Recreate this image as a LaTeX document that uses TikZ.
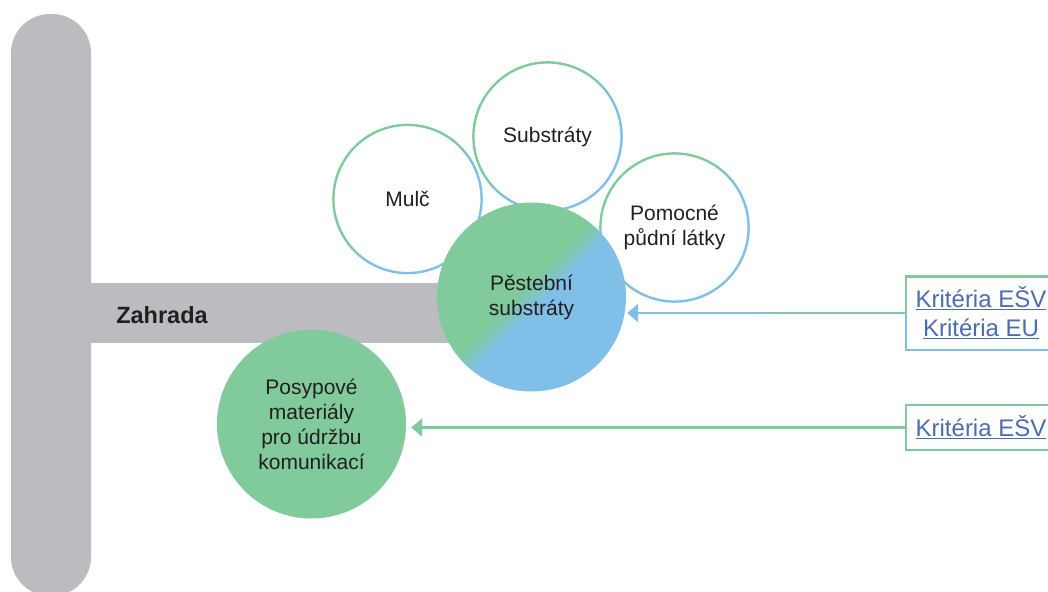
\documentclass[tikz,border=0pt]{standalone}
\usepackage{fontspec}
\setmainfont{Liberation Sans}
\usetikzlibrary{arrows.meta,calc}
\definecolor{cgreen}{HTML}{80CA9C}
\definecolor{cblue}{HTML}{80BFE8}
\definecolor{cgray}{HTML}{BBBCC0}
\definecolor{ctext}{HTML}{231F20}
\definecolor{clink}{HTML}{4A6CB0}
\pgfdeclarehorizontalshading{ringgb}{100bp}{color(0bp)=(cgreen); color(40bp)=(cgreen); color(60bp)=(cblue); color(100bp)=(cblue)}
\pgfdeclarehorizontalshading{fillgb}{100bp}{color(0bp)=(cgreen); color(47bp)=(cgreen); color(53bp)=(cblue); color(100bp)=(cblue)}
\begin{document}
\begin{tikzpicture}[x=1pt,y=-1pt,
  smallc/.style={circle, fill=white, minimum size=148pt, inner sep=0pt, align=center,
    font=\fontsize{21}{25}\selectfont, text=ctext},
  bigc/.style={circle, minimum size=189pt, inner sep=0pt, align=center,
    font=\fontsize{21}{25}\selectfont, text=ctext},
  ringc/.style={shading=ringgb, shading angle=-45, even odd rule},
  linkbox/.style={minimum width=150pt, inner sep=0pt, align=center,
    font=\fontsize{24}{29}\selectfont, text=clink},
  conn/.style={line width=2.2pt},
  boxline/.style={line width=2.4pt},
  tip/.style={-{Triangle[length=11pt,width=18pt]}}
]
\useasboundingbox (0,0) rectangle (1048,591);
\clip (0,0) rectangle (1048,591);
% garden bar
\fill[cgray, rounded corners=39pt] (11,14) rectangle (91,596);
\fill[cgray] (85,283) rectangle (480,343);
\node[font=\bfseries\fontsize{23.5}{28}\selectfont, text=ctext] (zahrada) at (162,315) {Zahrada};
% small circles
\node[smallc] (mulc) at (407.5,199) {Mulč};
\shade[ringc] (mulc.center) circle[radius=75.3] (mulc.center) circle[radius=72.9];
\node[smallc] (subst) at (547.5,136.5) {Substráty};
\shade[ringc] (subst.center) circle[radius=75.3] (subst.center) circle[radius=72.9];
\node[smallc] (pomoc) at (674.5,227.5) {Pomocné\\půdní látky};
\shade[ringc] (pomoc.center) circle[radius=75.3] (pomoc.center) circle[radius=72.9];
% big circles
\node[bigc, shade, shading=fillgb, shading angle=-45] (pest) at (531.5,297) {Pěstební\\substráty};
\node[bigc, fill=cgreen] (posyp) at (311.5,424) {Posypové\\materiály\\pro údržbu\\komunikací};
% boxes
\node[linkbox, minimum height=73pt] (k1) at (981,313) {\underline{Kritéria EŠV}\\\underline{Kritéria EU}};
\node[linkbox, minimum height=45pt] (k2) at (981,427.5) {\underline{Kritéria EŠV}};
\draw[cgreen, boxline] (k1.west) -- (k1.north west) -- (k1.north east);
\draw[cblue, boxline] (k1.west) -- (k1.south west) -- (k1.south east);
\draw[cgreen, boxline] (k2.north east) -- (k2.north west) -- (k2.south west) -- (k2.south east);
% connectors
\coordinate (g1) at (752,313);
\coordinate (g2) at (782,313);
\draw[cgreen, conn] (k1.west) -- (g2);
\foreach \i in {0,...,14}{
  \pgfmathsetmacro{\pc}{100-\i*100/14}
  \draw[cblue!\pc!cgreen, conn] ($(g1)+(\i*2-0.3,0)$) -- ($(g1)+(\i*2+2.3,0)$);
}
\draw[cblue, conn, tip] (g1) -- ($(pest.east |- g1)+(1,0)$);
\draw[cgreen, conn, tip] (k2.west) -- ($(posyp.east |- k2.west)+(5,0)$);
\end{tikzpicture}
\end{document}
